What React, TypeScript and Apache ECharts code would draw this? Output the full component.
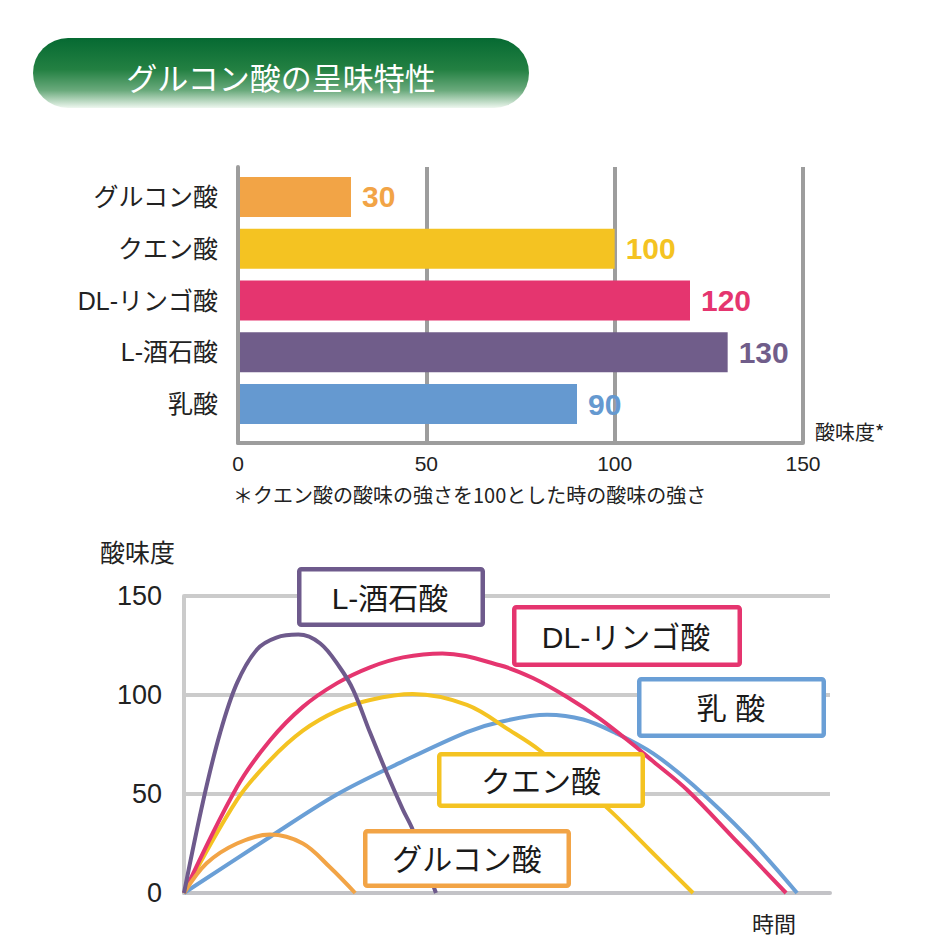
import React, { useEffect, useRef } from 'react';
import * as echarts from 'echarts';

const FONT = "'Liberation Sans', 'Noto Sans CJK JP', sans-serif";
const JP = "'Noto Sans CJK JP', 'Liberation Sans', sans-serif";

// ---- Data: bar chart (酸味度) ----
const barCategories = ['グルコン酸', 'クエン酸', 'DL-リンゴ酸', 'L-酒石酸', '乳酸'];
const barValues = [30, 100, 120, 130, 90];
const barTickMax = 150;
const barTickStep = 50;

// ---- Data: line chart (time course of sourness) [time, 酸味度] ----
const gluconicCurve = [[0, 0], [3.5, 15], [8.2, 25], [13.3, 29.5], [18.4, 25], [22.6, 13], [26.5, 0]];
const citricCurve = [[0, 0], [8.2, 47], [13.3, 67], [18.4, 82], [23.7, 92], [28.8, 97.5], [35.4, 100.5], [43.8, 95], [50.5, 82], [55.1, 72], [65.5, 43], [72.1, 21.7], [78.8, 0]];
const malicCurve = [[0, 0], [8.2, 53.5], [13.3, 77], [18.4, 94], [23.7, 106], [28.8, 114], [33.9, 119], [40, 121], [48.9, 115], [54, 108.6], [59.3, 99], [64.4, 88], [69.5, 75], [72.6, 66.5], [77.9, 52], [85, 28], [93.2, 0]];
const tartaricCurve = [[0, 0], [3.0, 47], [5.6, 81], [8.2, 106], [11.3, 123], [14.3, 129], [17.7, 130.5], [21.1, 126], [24.1, 114], [26.2, 102.5], [28.8, 81], [31.4, 60.5], [33.9, 42], [35.4, 32], [39.0, 0]];
const lacticCurve = [[0, 0], [13.3, 28.3], [23.8, 50], [33.4, 65.7], [43.8, 81.3], [48.9, 86.4], [56.2, 90], [61.8, 87.6], [67, 80.5], [72.6, 70.5], [78.8, 54.5], [87.2, 28.3], [94.9, 0]];
const lineTickMax = 150;
const lineTickStep = 50;

// ---- Text ----
const headerTitle = 'グルコン酸の呈味特性';
const barAxisName = '酸味度*';
const footnote = '＊クエン酸の酸味の強さを100とした時の酸味の強さ';
const lineYAxisName = '酸味度';
const lineXAxisName = '時間';
const boxLabels = ['L-酒石酸', 'DL-リンゴ酸', '乳 酸', 'クエン酸', 'グルコン酸'];

// ---- Styles ----
const barColors = ['#F2A446', '#F4C322', '#E5356F', '#705D8A', '#6599D0'];
const C = { gluconic: '#F2A446', citric: '#F4C322', malic: '#E5356F', tartaric: '#6E5A8C', lactic: '#6A9FD6' };
const boxColors = [C.tartaric, C.malic, C.lactic, C.citric, C.gluconic];
const boxLayout = [
  { x: 297, y: 567, w: 188, h: 60, cx: 390, cy: 598 },
  { x: 512, y: 605, w: 230, h: 62, cx: 626, cy: 637 },
  { x: 637, y: 677, w: 189, h: 61, cx: 731, cy: 708 },
  { x: 437, y: 752, w: 208, h: 56, cx: 541, cy: 781 },
  { x: 363, y: 829, w: 208, h: 59, cx: 467, cy: 859 },
];

function txt(text: string, x: number, y: number, size: number, align: string, color = '#222', family = JP) {
  return {
    type: 'text', x, y, z: 100,
    style: {
      text, fill: color, fontSize: size, fontFamily: family,
      align, textAlign: align, verticalAlign: 'middle', textVerticalAlign: 'middle',
    },
  };
}

export default function App() {
  const ref = useRef<HTMLDivElement>(null);
  useEffect(() => {
    const chart = echarts.init(ref.current!, null, { renderer: 'svg' });
    const lineSeries = [
      { name: '乳酸', data: lacticCurve, color: C.lactic },
      { name: 'クエン酸', data: citricCurve, color: C.citric },
      { name: 'DL-リンゴ酸', data: malicCurve, color: C.malic },
      { name: 'グルコン酸', data: gluconicCurve, color: C.gluconic },
      { name: 'L-酒石酸', data: tartaricCurve, color: C.tartaric },
    ].map((s) => ({
      type: 'line', name: s.name, xAxisIndex: 2, yAxisIndex: 2, data: s.data,
      smooth: 0.35, showSymbol: false, symbol: 'none',
      lineStyle: { color: s.color, width: 4 }, itemStyle: { color: s.color },
    }));

    const boxes = boxLabels.map((label, i) => {
      const b = boxLayout[i];
      return {
        type: 'group', z: 100,
        children: [
          { type: 'rect', z: 100, shape: { x: b.x + 2.25, y: b.y + 2.25, width: b.w - 4.5, height: b.h - 4.5, r: 2 },
            style: { fill: '#fff', stroke: boxColors[i], lineWidth: 4.5 } },
          { type: 'text', z: 101, x: b.cx, y: b.cy,
            style: { text: label, fill: '#1a1a1a', fontSize: 30, fontFamily: FONT,
              align: 'center', textAlign: 'center', verticalAlign: 'middle', textVerticalAlign: 'middle' } },
        ],
      };
    });

    chart.setOption({
      animation: false,
      backgroundColor: '#fff',
      grid: [
        { left: 238, top: 167, width: 565, height: 276 },
        { left: 238, top: 171, width: 565, height: 259 },
        { left: 184, top: 596, width: 646, height: 297 },
      ],
      xAxis: [
        { gridIndex: 0, type: 'value', min: 0, max: barTickMax, interval: barTickStep,
          axisLine: { show: true, lineStyle: { color: '#9d9d9d', width: 4 } }, axisTick: { show: false },
          splitLine: { show: true, lineStyle: { color: '#9d9d9d', width: 4 } },
          axisLabel: { fontSize: 21, color: '#222', margin: 10, fontFamily: FONT } },
        { gridIndex: 1, type: 'value', min: 0, max: barTickMax, show: false },
        { gridIndex: 2, type: 'value', min: 0, max: 100,
          axisLine: { show: true, lineStyle: { color: '#c3c3c7', width: 4 } }, axisTick: { show: false },
          axisLabel: { show: false }, splitLine: { show: false } },
      ],
      yAxis: [
        { gridIndex: 0, type: 'value', min: 0, max: 1, z: 5,
          axisLine: { show: true, onZero: false, lineStyle: { color: '#9d9d9d', width: 4 } },
          axisTick: { show: false }, axisLabel: { show: false }, splitLine: { show: false } },
        { gridIndex: 1, type: 'category', data: barCategories, inverse: true,
          axisLine: { show: false }, axisTick: { show: false },
          axisLabel: { fontSize: 25, color: '#222', margin: 20, fontFamily: FONT } },
        { gridIndex: 2, type: 'value', min: 0, max: lineTickMax, interval: lineTickStep,
          axisLine: { show: true, onZero: false, lineStyle: { color: '#cbcbcb', width: 4 } }, axisTick: { show: false },
          axisLabel: { fontSize: 27, color: '#222', margin: 22, fontFamily: FONT },
          splitLine: { show: true, lineStyle: { color: '#cbcbcb', width: 4 } } },
      ],
      series: [
        { type: 'bar', xAxisIndex: 1, yAxisIndex: 1, barWidth: 40,
          data: barValues.map((v, i) => ({ value: v, itemStyle: { color: barColors[i] }, label: { color: barColors[i] } })),
          label: { show: true, position: 'right', distance: 11, fontSize: 30, fontWeight: 'bold', fontFamily: FONT } },
        ...lineSeries,
      ],
      graphic: [
        { type: 'rect', z: 100, shape: { x: 33, y: 38, width: 496, height: 70, r: 35 },
          style: { fill: new echarts.graphic.LinearGradient(0, 0, 0, 1, [
            { offset: 0, color: '#066a32' }, { offset: 0.45, color: '#238042' },
            { offset: 0.75, color: '#6aaa7c' }, { offset: 1, color: '#eef7ef' }]) } },
        txt(headerTitle, 281, 76, 31, 'center', '#ffffff'),
        txt(barAxisName, 815, 431, 20, 'left'),
        txt(footnote, 233, 494, 20, 'left'),
        txt(lineYAxisName, 100, 551, 25, 'left'),
        txt(lineXAxisName, 752, 922, 22, 'left'),
        ...boxes,
      ],
    });
    return () => chart.dispose();
  }, []);
  return <div ref={ref} style={{ position: 'absolute', left: 0, top: 0, width: 945, height: 945, background: '#fff' }} />;
}
